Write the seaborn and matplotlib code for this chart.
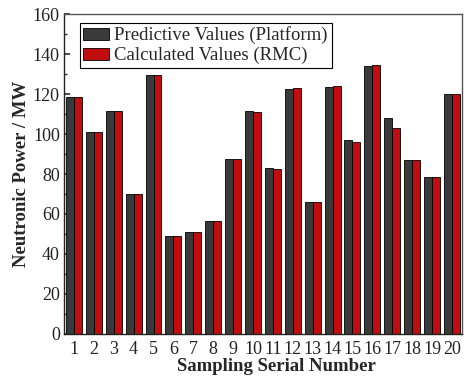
import matplotlib
matplotlib.use("Agg")
import matplotlib.pyplot as plt
import seaborn as sns
import pandas as pd
from matplotlib.ticker import MultipleLocator

samples = list(range(1, 21))
platform = [118.3, 100.8, 111.3, 69.8, 129.3, 49.0, 50.8, 56.3, 87.3, 111.7,
            83.0, 122.7, 66.0, 123.3, 97.0, 134.0, 108.2, 87.0, 78.7, 119.8]
rmc = [118.3, 100.8, 111.3, 69.8, 129.3, 49.0, 50.8, 56.3, 87.3, 111.0,
       82.7, 122.8, 66.0, 124.2, 95.8, 134.3, 102.8, 87.0, 78.7, 119.8]
series_names = ["Predictive Values (Platform)", "Calculated Values (RMC)"]

df = pd.DataFrame({
    "sample": [str(s) for s in samples] * 2,
    "value": platform + rmc,
    "series": [series_names[0]] * len(samples) + [series_names[1]] * len(samples),
})

sns.set_theme(style="ticks")
plt.rcParams["font.family"] = ["Liberation Serif", "DejaVu Serif"]

fig = plt.figure(figsize=(4.67, 3.82), dpi=100)
ax = fig.add_axes([0.137, 0.1257, 0.852, 0.8376])

sns.barplot(data=df, x="sample", y="value", hue="series",
            palette=["#3a3a3a", "#c00d0f"], edgecolor="black", linewidth=0.6,
            width=0.8, ax=ax, saturation=1)

ax.set_xlim(-0.5, 19.5)
ax.set_ylim(0, 160)
ax.yaxis.set_major_locator(MultipleLocator(20))
ax.yaxis.set_minor_locator(MultipleLocator(10))
ax.tick_params(axis="y", which="both", direction="in", labelsize=13, colors="#333333",
               labelcolor="#222222", pad=3)
ax.tick_params(axis="y", which="major", length=4)
ax.tick_params(axis="y", which="minor", length=2)
ax.tick_params(axis="x", direction="in", length=2, labelsize=13, pad=5,
               labelcolor="#222222")

for sp in ax.spines.values():
    sp.set_visible(True)
    sp.set_color("#555555")
    sp.set_linewidth(1.0)
ax.spines["left"].set_color("#222222")
ax.spines["bottom"].set_color("#222222")

ax.set_xlabel("Sampling Serial Number", fontsize=13.5, fontweight="bold")
ax.xaxis.set_label_coords(0.535, -0.075)
ax.set_ylabel("Neutronic Power / MW", fontsize=13.5, fontweight="bold", labelpad=2)

leg = ax.legend(loc="upper left", bbox_to_anchor=(0.03, 0.985), fontsize=13.5,
                frameon=True, fancybox=False, edgecolor="black", framealpha=1,
                handlelength=1.35, handleheight=0.6, borderpad=0.2, labelspacing=0.15,
                handletextpad=0.3, borderaxespad=0.2)
leg.get_frame().set_linewidth(0.8)
leg.set_title(None)

fig.savefig("out.png", dpi=100)
